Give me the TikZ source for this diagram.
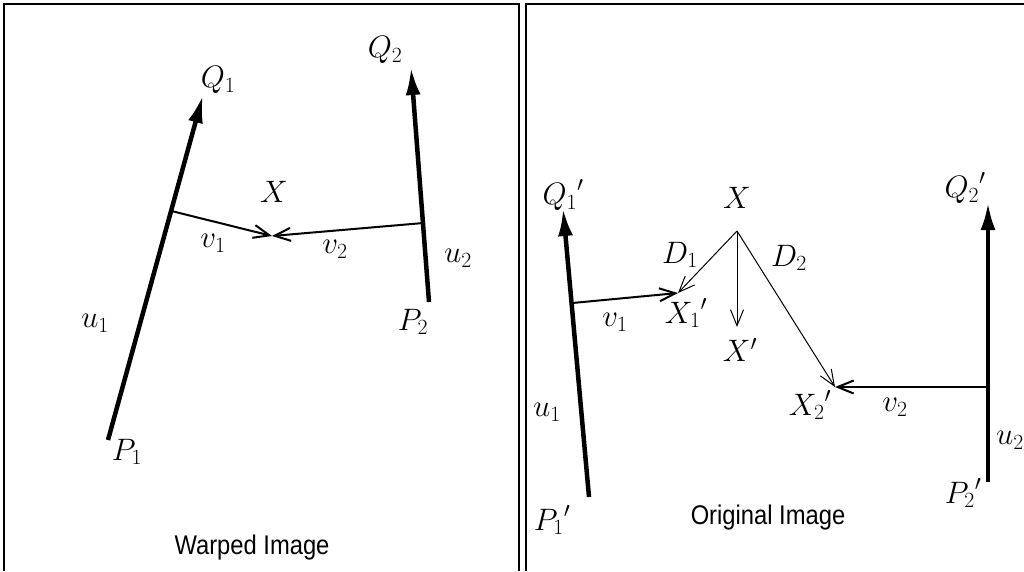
\RequirePackage{fix-cm}
\documentclass[tikz,border=0pt]{standalone}
\usepackage{graphicx}
\usepackage{fontspec}
\newfontfamily\labsans{Liberation Sans}
\usetikzlibrary{arrows.meta,calc}
\newcommand{\narrowtext}[1]{\scalebox{0.88}[1]{#1}}
\begin{document}
\begin{tikzpicture}[x=1pt,y=-1pt,
  frameline/.style={line width=1.5pt},
  axisvec/.style={line width=4.5pt,-{Latex[length=28pt,width=15pt]}},
  midvec/.style={line width=2pt,-{Straight Barb[length=16pt,width=13pt]}},
  thinvec/.style={line width=1pt,-{Straight Barb[length=16pt,width=13pt]}},
  lbl/.style={inner sep=0pt,font=\fontsize{31}{33}\selectfont},
  ttl/.style={inner sep=0pt,font=\labsans\fontsize{27}{30}\selectfont}]
\useasboundingbox (0,0) rectangle (1024,571);
% frames
\draw[frameline] (4,571) -- (4,4) -- (519,4) -- (519,571);
\draw[frameline] (526,571) -- (526,4) -- (1025,4);
% ---------- left panel ----------
\coordinate (P1) at (108,440);
\coordinate (Q1) at (203,95);
\coordinate (P2) at (429,302);
\coordinate (Q2) at (411,67);
\coordinate (A1) at ($(P1)!0.664!(Q1)$);
\coordinate (A2) at ($(P2)!0.336!(Q2)$);
\coordinate (Xw) at (272,236);
\draw[axisvec] (P1) -- (Q1);
\draw[axisvec] (P2) -- (Q2);
\draw[midvec] (A1) -- (Xw);
\draw[midvec] (A2) -- (Xw);
\node[lbl] (lQ1) at (218,80) {$Q_1$};
\node[lbl] (lP1) at (127,452) {$P_1$};
\node[lbl] (lQ2) at (385,50) {$Q_2$};
\node[lbl] (lP2) at (413,322) {$P_2$};
\node[lbl] (lu1) at (95,323) {$u_1$};
\node[lbl] (lu2) at (458,258) {$u_2$};
\node[lbl] (lX) at (274,192) {$X$};
\node[lbl] (lv1) at (213,243) {$v_1$};
\node[lbl] (lv2) at (335,249) {$v_2$};
\node[ttl] (tw) at (252,548) {\narrowtext{Warped Image}};
% ---------- right panel ----------
\coordinate (P1o) at (589,497);
\coordinate (Q1o) at (563,208);
\coordinate (P2o) at (988,482);
\coordinate (Q2o) at (988,202);
\coordinate (B1) at ($(P1o)!0.671!(Q1o)$);
\coordinate (B2) at (988,387);
\coordinate (X1o) at (678,293);
\coordinate (Xo) at (737,231);
\coordinate (Xpo) at (737,327);
\coordinate (X2o) at (835,387);
\draw[axisvec] (P1o) -- (Q1o);
\draw[axisvec] (P2o) -- (Q2o);
\draw[midvec] (B1) -- (X1o);
\draw[midvec] (B2) -- (X2o);
\draw[thinvec] (Xo) -- (X1o);
\draw[thinvec] (Xo) -- (Xpo);
\draw[thinvec] (Xo) -- (X2o);
\node[lbl] (rQ1) at (563,195) {${Q_1}'$};
\node[lbl] (rX) at (737,198) {$X$};
\node[lbl] (rD1) at (680,255) {$D_1$};
\node[lbl] (rD2) at (789,258) {$D_2$};
\node[lbl] (rX1) at (686,313) {${X_1}'$};
\node[lbl] (rv1) at (615,322) {$v_1$};
\node[lbl] (rXp) at (740,350) {$X'$};
\node[lbl] (rX2) at (810,405) {${X_2}'$};
\node[lbl] (rv2) at (895,407) {$v_2$};
\node[lbl] (rQ2) at (965,188) {${Q_2}'$};
\node[lbl] (ru2) at (1010,440) {$u_2$};
\node[lbl] (ru1) at (547,412) {$u_1$};
\node[lbl] (rP1) at (552,520) {${P_1}'$};
\node[lbl] (rP2) at (963,493) {${P_2}'$};
\node[ttl] (to) at (768,518) {\narrowtext{Original Image}};
\end{tikzpicture}
\end{document}
